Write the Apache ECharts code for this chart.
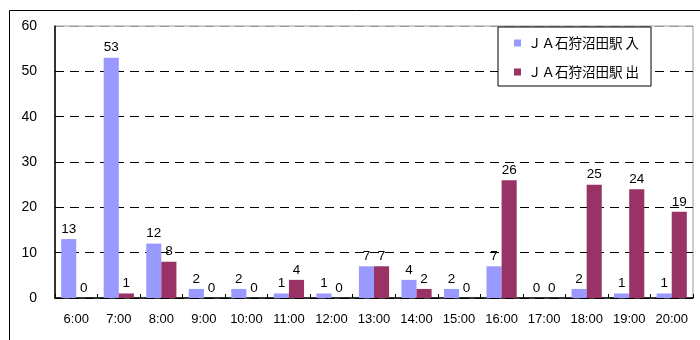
<!DOCTYPE html>
<html>
<head>
<meta charset="utf-8">
<script src="https://cdn.jsdelivr.net/npm/echarts@6/dist/echarts.min.js"></script>
<style>
  html, body { margin: 0; padding: 0; background: #fff; }
  #chart { width: 700px; height: 340px; }
</style>
</head>
<body>
<div id="chart"></div>
<script>
// Hourly passenger counts at JA 石狩沼田駅 (boarding / alighting)
const hours = ['6:00','7:00','8:00','9:00','10:00','11:00','12:00','13:00','14:00','15:00','16:00','17:00','18:00','19:00','20:00'];
const inCounts  = [13, 53, 12, 2, 2, 1, 1, 7, 4, 2, 7, 0, 2, 1, 1];
const outCounts = [0, 1, 8, 0, 0, 4, 0, 7, 2, 0, 26, 0, 25, 24, 19];
const seriesNames = ['ＪＡ石狩沼田駅 入', 'ＪＡ石狩沼田駅 出'];
const yTicks = { min: 0, max: 60, interval: 10 };

const baseFont = 'Liberation Sans, Arial, sans-serif';
const cjkFont = '"Noto Sans CJK JP", "Liberation Sans", sans-serif';

const chart = echarts.init(document.getElementById('chart'), null, { renderer: 'canvas' });

const labelStyle = {
  show: true,
  position: 'top',
  distance: 3,
  color: '#000',
  fontSize: 13.5,
  fontFamily: baseFont
};

chart.setOption({
  animation: false,
  backgroundColor: '#fff',
  graphic: [{
    type: 'rect',
    left: 7,
    top: 8,
    shape: { width: 720, height: 360 },
    style: { fill: 'none', stroke: '#000', lineWidth: 1 },
    silent: true,
    z: 0
  }],
  grid: {
    left: 55,
    right: 7,
    top: 26,
    bottom: 42,
    show: true,
    borderColor: '#999',
    borderWidth: 1,
    backgroundColor: 'transparent'
  },
  legend: {
    orient: 'vertical',
    left: 498,
    top: 27,
    padding: [8, 12, 6, 16],
    itemGap: 13,
    itemWidth: 7,
    itemHeight: 7,
    borderColor: '#000',
    borderWidth: 1,
    backgroundColor: '#fff',
    icon: 'rect',
    textStyle: { fontSize: 13.5, fontFamily: cjkFont, color: '#000', lineHeight: 16, padding: [0, 0, 0, 2] },
    data: seriesNames
  },
  xAxis: {
    type: 'category',
    data: hours,
    axisLine: { lineStyle: { color: '#000', width: 1.5 } },
    axisTick: { show: true, inside: true, length: 4, lineStyle: { color: '#000' } },
    axisLabel: { color: '#000', fontSize: 13, fontFamily: baseFont, margin: 15 },
    splitLine: { show: false }
  },
  yAxis: {
    type: 'value',
    min: yTicks.min,
    max: yTicks.max,
    interval: yTicks.interval,
    axisLine: { show: true, lineStyle: { color: '#000', width: 1.5 } },
    axisTick: { show: false },
    axisLabel: { color: '#000', fontSize: 14, fontFamily: baseFont, margin: 18 },
    splitLine: { show: true, lineStyle: { color: ['#000', '#000', '#000', '#000', '#000', '#000', '#999'], type: [9, 6], width: 1 } }
  },
  series: [
    {
      name: seriesNames[0],
      type: 'bar',
      data: inCounts,
      barGap: '0%',
      barCategoryGap: '29%',
      itemStyle: { color: '#9999FF' },
      label: labelStyle
    },
    {
      name: seriesNames[1],
      type: 'bar',
      data: outCounts,
      barGap: '0%',
      barCategoryGap: '29%',
      itemStyle: { color: '#993366' },
      label: labelStyle
    }
  ]
});
</script>
</body>
</html>
